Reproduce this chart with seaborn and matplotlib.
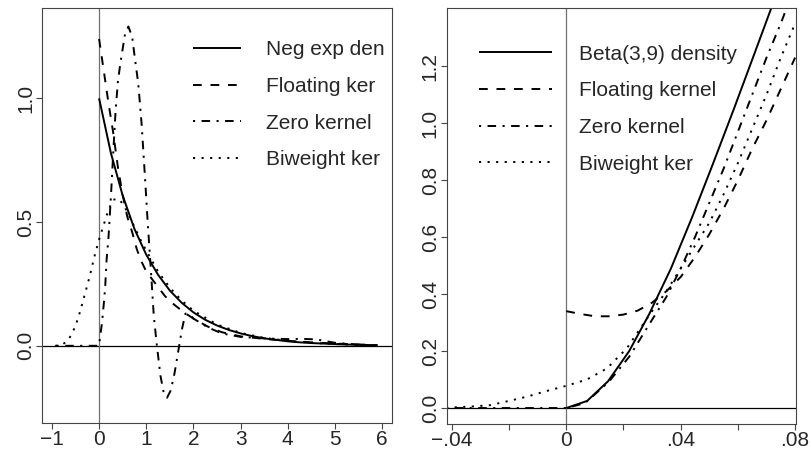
import matplotlib
matplotlib.use("Agg")
import matplotlib.pyplot as plt
import numpy as np
import pandas as pd
import seaborn as sns

# ---- left panel: negative exponential density and kernel estimates ----
negexp_x = [0, 0.25, 0.5, 0.75, 1.0, 1.25, 1.5, 1.75, 2.0, 2.25, 2.5, 2.75, 3.0,
            3.25, 3.5, 3.75, 4.0, 4.25, 4.5, 4.75, 5.0, 5.25, 5.5, 5.75, 5.9]
negexp_y = [1.0, 0.779, 0.607, 0.472, 0.368, 0.287, 0.223, 0.174, 0.135, 0.105, 0.082,
            0.064, 0.050, 0.039, 0.030, 0.024, 0.018, 0.014, 0.011, 0.009, 0.007,
            0.005, 0.004, 0.003, 0.0025]

float_x = [0, 0.1, 0.2, 0.3, 0.4, 0.5, 0.6, 0.7, 0.8, 0.9, 1.0, 1.1, 1.2, 1.3, 1.4,
           1.6, 1.8, 2.0, 2.3, 2.6, 3.0, 3.5, 4.0, 4.5, 5.0, 5.5, 5.9]
float_y = [1.24, 1.11, 0.98, 0.86, 0.72, 0.61, 0.52, 0.46, 0.39, 0.34, 0.30, 0.275,
           0.25, 0.225, 0.20, 0.165, 0.135, 0.11, 0.078, 0.055, 0.038, 0.028, 0.02,
           0.014, 0.009, 0.005, 0.003]

zero_x = [-0.9, -0.5, 0, 0.02, 0.06, 0.1, 0.13, 0.16, 0.2, 0.25, 0.3, 0.35, 0.4, 0.45,
          0.5, 0.55, 0.62, 0.7, 0.76, 0.83, 0.9, 0.97, 1.03, 1.1, 1.16, 1.22, 1.3, 1.37,
          1.44, 1.52, 1.6, 1.68, 1.76, 1.83, 1.9, 2.0, 2.3, 2.6, 3.0, 3.5, 4.0, 4.3, 4.6,
          5.0, 5.3, 5.6, 5.9]
zero_y = [0, 0, 0, 0.035, 0.09, 0.17, 0.24, 0.35, 0.44, 0.6, 0.78, 0.95, 1.07, 1.14,
          1.2, 1.26, 1.29, 1.25, 1.16, 1.06, 0.9, 0.69, 0.5, 0.3, 0.12, 0.01, -0.12,
          -0.19, -0.21, -0.18, -0.11, -0.02, 0.07, 0.13, 0.13, 0.11, 0.075, 0.05, 0.036,
          0.03, 0.027, 0.028, 0.026, 0.012, 0.008, 0.003, 0.0]

biw_x = [-0.93, -0.8, -0.7, -0.6, -0.5, -0.4, -0.3, -0.2, -0.1, 0, 0.1, 0.2, 0.3, 0.4,
         0.5, 0.6, 0.7, 0.8, 0.9, 1.0, 1.25, 1.5, 1.75, 2.0, 2.5, 3.0, 3.5, 4.0, 4.5,
         5.0, 5.5, 5.9]
biw_y = [0, 0.003, 0.015, 0.04, 0.08, 0.14, 0.21, 0.28, 0.36, 0.43, 0.49, 0.55, 0.59,
         0.595, 0.575, 0.54, 0.50, 0.46, 0.42, 0.385, 0.30, 0.235, 0.183, 0.142, 0.086,
         0.052, 0.032, 0.02, 0.012, 0.007, 0.004, 0.002]

# ---- right panel: Beta(3,9) density near the boundary ----
beta_x = [0, 0.0073, 0.0146, 0.022, 0.029, 0.0366, 0.044, 0.051, 0.0586, 0.066, 0.073, 0.08]
beta_y = [0, 0.025, 0.094, 0.20, 0.33, 0.49, 0.67, 0.85, 1.05, 1.25, 1.44, 1.63]

rfloat_x = [0, 0.005, 0.01, 0.015, 0.02, 0.025, 0.03, 0.035, 0.04, 0.045, 0.05, 0.055,
            0.06, 0.065, 0.07, 0.075, 0.08]
rfloat_y = [0.34, 0.33, 0.322, 0.322, 0.328, 0.342, 0.37, 0.41, 0.46, 0.53, 0.61, 0.70,
            0.80, 0.91, 1.01, 1.12, 1.23]

rzero_x = [-0.042, -0.02, 0, 0.0065, 0.0147, 0.022, 0.03, 0.035, 0.04, 0.045, 0.05,
           0.055, 0.06, 0.065, 0.07, 0.075, 0.0765]
rzero_y = [0, 0, 0, 0.017, 0.09, 0.18, 0.31, 0.39, 0.49, 0.60, 0.72, 0.84, 0.97, 1.10,
           1.23, 1.35, 1.39]

rbiw_x = [-0.042, -0.04, -0.0335, -0.0266, -0.0196, -0.0137, -0.0068, 0, 0.0072, 0.0142,
          0.0212, 0.0259, 0.03, 0.035, 0.04, 0.045, 0.05, 0.055, 0.06, 0.065, 0.07,
          0.075, 0.08]
rbiw_y = [0.001, 0.002, 0.005, 0.01, 0.026, 0.04, 0.06, 0.078, 0.10, 0.139, 0.21, 0.28,
          0.34, 0.41, 0.49, 0.57, 0.65, 0.75, 0.86, 0.98, 1.10, 1.23, 1.35]

left_labels = ["Neg exp den", "Floating ker", "Zero kernel", "Biweight ker"]
right_labels = ["Beta(3,9) density", "Floating kernel", "Zero kernel", "Biweight ker"]

sns.set_style("ticks")
plt.rcParams["font.family"] = ["Liberation Sans", "DejaVu Sans"]

LW = 1.4
FS = 15
styles = [(0, ()), (0, (4.5, 4.5)), (0, (1.1, 3.3, 4.4, 3.3)), (0, (1.1, 3.3))]

fig = plt.figure(figsize=(8.11, 4.49), dpi=100)
ax1 = fig.add_axes([0.0518, 0.0579, 0.4316, 0.9243])
ax2 = fig.add_axes([0.5508, 0.0557, 0.4307, 0.9265])


def draw(ax, series, labels):
    for (xs, ys), lab, ls in zip(series, labels, styles):
        df = pd.DataFrame({"x": xs, "y": ys})
        sns.lineplot(data=df, x="x", y="y", ax=ax, color="black", linewidth=LW,
                     linestyle=ls, label=lab, sort=False, legend=False)
    ax.axhline(0, color="black", linewidth=0.9, zorder=0)
    ax.axvline(0, color="#707070", linewidth=0.9, zorder=0)
    ax.set_xlabel("")
    ax.set_ylabel("")
    for sp in ax.spines.values():
        sp.set_visible(True)
        sp.set_color("#444444")
        sp.set_linewidth(0.8)
    ax.tick_params(direction="out", length=4, width=0.8, color="#444444",
                   labelsize=FS, pad=1)


draw(ax1, [(negexp_x, negexp_y), (float_x, float_y), (zero_x, zero_y), (biw_x, biw_y)],
     left_labels)
ax1.set_xlim(-1.21, 6.21)
ax1.set_ylim(-0.312, 1.365)
ax1.set_xticks(range(-1, 7))
ax1.set_xticklabels(["\u22121", "0", "1", "2", "3", "4", "5", "6"])
ax1.set_yticks([0.0, 0.5, 1.0])
ax1.set_yticklabels(["0.0", "0.5", "1.0"], rotation=90, va="center")
ax1.legend(loc="upper left", bbox_to_anchor=(0.431, 0.922), frameon=False,
           fontsize=FS, handlelength=2.3, handletextpad=1.2, labelspacing=0.85,
           borderpad=0, borderaxespad=0)

draw(ax2, [(beta_x, beta_y), (rfloat_x, rfloat_y), (rzero_x, rzero_y), (rbiw_x, rbiw_y)],
     right_labels)
ax2.set_xlim(-0.0418, 0.0803)
ax2.set_ylim(-0.056, 1.404)
ax2.set_xticks([-0.04, -0.02, 0, 0.02, 0.04, 0.06, 0.08])
ax2.set_xticklabels(["\u2212.04", "", "0", "", ".04", "", ".08"])
ax2.set_yticks([0.0, 0.2, 0.4, 0.6, 0.8, 1.0, 1.2])
ax2.set_yticklabels(["0.0", "0.2", "0.4", "0.6", "0.8", "1.0", "1.2"], rotation=90,
                    va="center")
ax2.legend(loc="upper left", bbox_to_anchor=(0.0925, 0.912), frameon=False,
           fontsize=FS, handlelength=3.5, handletextpad=1.3, labelspacing=0.85,
           borderpad=0, borderaxespad=0)

fig.savefig("out.png", dpi=100)
